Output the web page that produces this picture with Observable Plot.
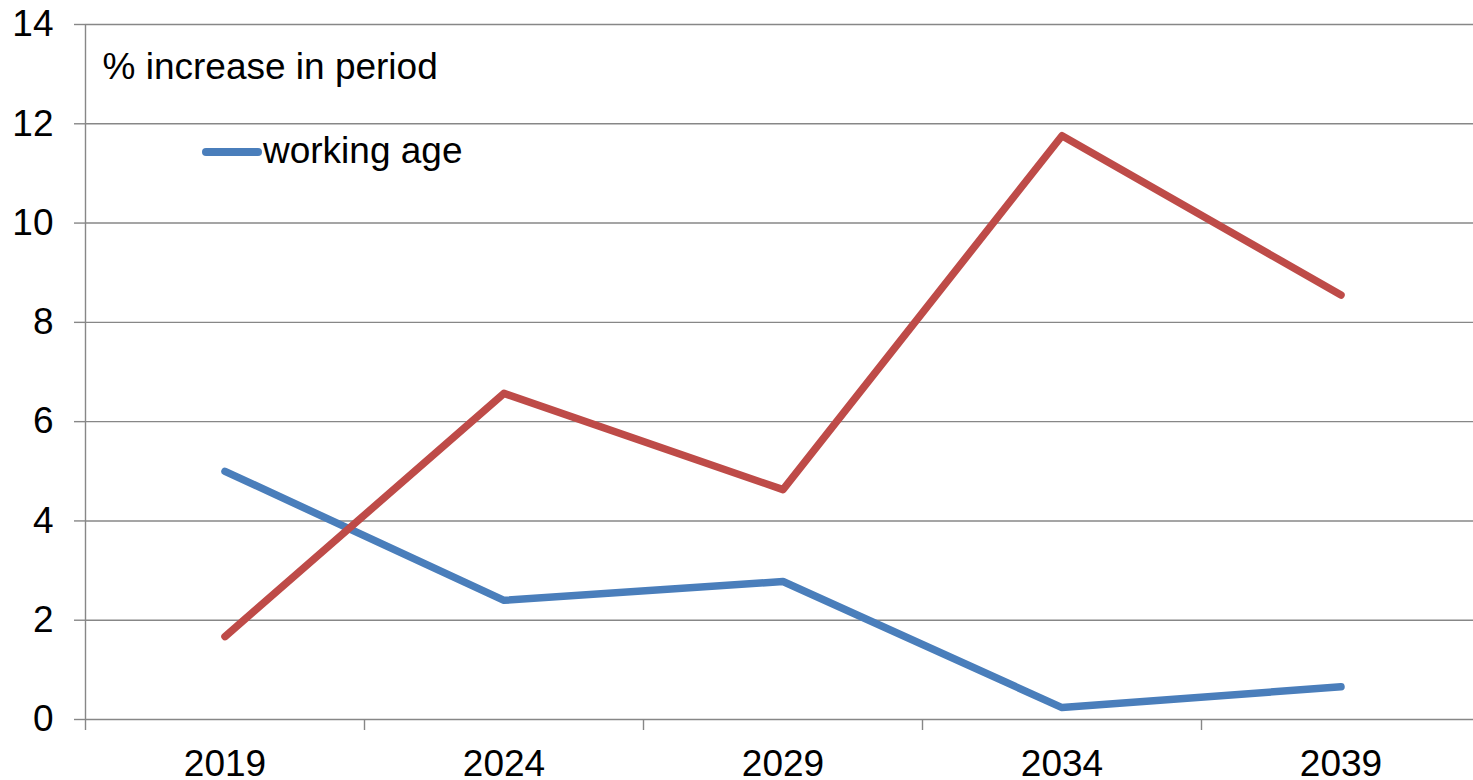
<!DOCTYPE html>
<html>
<head>
<meta charset="utf-8">
<script src="https://cdn.jsdelivr.net/npm/d3@7"></script>
<script src="https://cdn.jsdelivr.net/npm/@observablehq/plot@0.6"></script>
<style>
  html, body { margin: 0; padding: 0; background: #fff; overflow: hidden; }
  #wrap { position: relative; width: 1480px; height: 780px; font-family: "Liberation Sans", Arial, sans-serif; }
  #legend { position: absolute; left: 202px; top: 132px; height: 37px; line-height: 37px; font-size: 37px; color: #000; white-space: nowrap; }
  #legend .sw { position: absolute; left: 0; top: 16px; width: 60px; height: 8px; border-radius: 4px; background: #4A7EBB; }
  #legend .lb { position: absolute; left: 61px; top: 0; }
</style>
</head>
<body>
<div id="wrap">
  <div id="chart"></div>
  <div id="legend"><span class="sw"></span><span class="lb">working age</span></div>
</div>
<script>
const years = [2019, 2024, 2029, 2034, 2039];
const workingAge = [5.0, 2.4, 2.78, 0.24, 0.66];
const otherSeries = [1.67, 6.57, 4.63, 11.76, 8.55];
const yTicks = [0, 2, 4, 6, 8, 10, 12, 14];
const titleText = "% increase in period";

const halfBand = 2.5;
const bandEdges = years.map(y => y - halfBand).concat([years[years.length - 1] + halfBand]);

const blueRows = years.map((yr, i) => ({year: yr, value: workingAge[i]}));
const redRows = years.map((yr, i) => ({year: yr, value: otherSeries[i]}));

const gridColor = "#878787";

const chart = Plot.plot({
  width: 1480,
  height: 780,
  marginLeft: 85,
  marginRight: 0,
  marginTop: 24,
  marginBottom: 61,
  x: {domain: [bandEdges[0], bandEdges[bandEdges.length - 1]]},
  y: {domain: [0, 14]},
  style: {fontFamily: "'Liberation Sans', Arial, sans-serif", fontSize: "37px", color: "#000", background: "#fff", overflow: "visible"},
  marks: [
    Plot.gridY(yTicks, {stroke: gridColor, strokeOpacity: 1, strokeWidth: 1.4}),
    Plot.axisY({ticks: yTicks, tickSize: 11, tickPadding: 21, stroke: gridColor, strokeWidth: 1.4, fontSize: 37, label: null}),
    Plot.axisX({ticks: bandEdges, tickSize: 11, tickFormat: () => "", stroke: gridColor, strokeWidth: 1.4, label: null}),
    Plot.axisX({ticks: years, tickSize: 0, tickPadding: 30, tickFormat: d => String(d), fontSize: 37, label: null}),
    Plot.ruleX([bandEdges[0]], {stroke: gridColor, strokeWidth: 1.4}),
    Plot.line(blueRows, {x: "year", y: "value", stroke: "#4A7EBB", strokeWidth: 7.5, strokeLinecap: "round", strokeLinejoin: "round"}),
    Plot.line(redRows, {x: "year", y: "value", stroke: "#BE4B48", strokeWidth: 7.5, strokeLinecap: "round", strokeLinejoin: "round"}),
    Plot.text([titleText], {frameAnchor: "top-left", text: d => d, dx: 17, dy: 28, lineAnchor: "top", textAnchor: "start", fontSize: 37, fill: "#000"})
  ]
});
document.getElementById("chart").appendChild(chart);
</script>
</body>
</html>
